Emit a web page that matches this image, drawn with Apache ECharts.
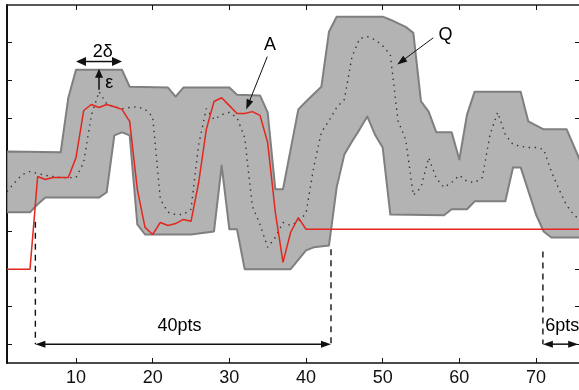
<!DOCTYPE html>
<html><head><meta charset="utf-8">
<script src="https://cdn.jsdelivr.net/npm/echarts@6/dist/echarts.min.js"></script>
<style>html,body{margin:0;padding:0;background:#fff;overflow:hidden}#c{width:579px;height:390px}</style>
</head><body><div id="c"></div>
<script>
// ---- data ----
const xTicks = [10, 20, 30, 40, 50, 60, 70];
const yTicks = [0, 1, 2, 3, 4, 5, 6, 7, 8];

// Query Q (dotted), x = 1..76
const seriesQ = [4.05,4.29,4.50,4.58,4.53,4.48,4.45,4.42,4.42,4.42,
  4.82,6.07,6.70,6.38,6.30,6.25,6.28,6.30,6.23,6.04,
  3.84,3.50,3.44,3.44,3.58,5.30,6.25,5.96,6.09,6.15,
  6.01,5.48,3.66,3.18,2.57,2.83,3.23,3.15,3.26,3.47,
  4.69,5.62,5.93,6.28,6.49,7.63,8.11,8.16,8.08,7.92,
  7.68,5.93,5.43,3.95,4.16,4.95,4.40,4.16,4.29,4.48,
  4.32,4.29,4.42,5.56,6.15,5.56,5.30,5.25,5.22,5.22,
  5.17,4.58,4.11,3.68,3.42,3.26];

// Candidate A (red), x = 1..76
const seriesA = [1.99,1.99,1.99,1.99,4.45,4.37,4.42,4.42,4.42,4.95,
  6.20,6.36,6.28,6.36,6.30,6.23,5.91,4.11,3.10,2.91,
  3.23,3.15,3.20,3.31,3.26,4.29,5.70,6.44,6.54,6.33,
  6.12,6.12,6.17,6.07,5.35,3.50,2.17,2.97,3.36,3.05,
  3.05,3.05,3.05,3.05,3.05,3.05,3.05,3.05,3.05,3.05,
  3.05,3.05,3.05,3.05,3.05,3.05,3.05,3.05,3.05,3.05,
  3.05,3.05,3.05,3.05,3.05,3.05,3.05,3.05,3.05,3.05,
  3.05,3.05,3.05,3.05,3.05,3.05];

// Envelope vertices [x, y]
const upperEnv = [[1,5.11],[8,5.09],[9,6.54],[10,7.28],[16,7.28],[17,6.83],[22,6.81],[23,6.57],[24,6.81],
  [30,6.81],[31,6.62],[34,6.60],[35,6.15],[36,4.11],[37,4.11],[39,6.23],[40,6.44],[42,6.83],[43,8.29],
  [44,8.69],[50,8.69],[51,8.61],[53,8.42],[54,8.26],[55,6.44],[56,6.17],[57,5.62],[59,5.62],[60,4.90],
  [61,6.09],[62,6.70],[68,6.70],[69,5.91],[71,5.70],[74,5.70],[76,4.75]];
const lowerEnv = [[1,3.50],[4,3.50],[5,3.71],[6,3.89],[13,3.89],[14,4.03],[15,5.54],[16,5.62],[17,5.54],
  [18,3.18],[19,2.91],[25,2.91],[28,2.99],[29,4.74],[30,3.05],[31,3.05],[32,1.99],[38,1.99],[40,2.49],
  [41,2.57],[43,2.62],[44,4.16],[45,5.03],[46,5.38],[47,5.70],[48,6.04],[49,5.56],[50,5.22],[51,3.44],
  [58,3.42],[59,3.58],[61,3.58],[62,3.79],[66,3.79],[67,4.69],[68,4.69],[70,3.44],[71,2.99],[72,2.83],[76,2.83]];

// Annotations (data coordinates)
const annoArrows = [
  {from:[10,7.50], to:[16,7.50], start:true, end:true, head:[10,4.5]},
  {from:[13,6.75], to:[13,7.31], start:false, end:true, head:[9,4]},
  {from:[34.95,7.63], to:[32.2,6.23], start:false, end:true, head:[10,3.5], w:1},
  {from:[56.6,8.13], to:[51.9,7.42], start:false, end:true, head:[10,3.5], w:1},
  {from:[4.7,0], to:[43.26,0], start:true, end:true, head:[10,3.5], w:1.5},
  {from:[70.9,0], to:[75.5,0], start:true, end:true, head:[10,3.5], w:1.5}
];
const annoDashed = [
  {from:[4.7,3.25], to:[4.7,0]},
  {from:[43.26,2.52], to:[43.26,0]},
  {from:[70.9,2.46], to:[70.9,0]}
];
const annoTexts = [
  {text:'2δ', at:[13.5,7.76], align:'center'},
  {text:'ε', at:[14.35,6.94], align:'center'},
  {text:'A', at:[35.3,7.95], align:'center'},
  {text:'Q', at:[58.2,8.21], align:'center'},
  {text:'40pts', at:[23.5,0.48], align:'center'},
  {text:'6pts', at:[71.2,0.48], align:'left'}
];

const FONT = '"Liberation Sans", Arial, sans-serif';
const chart = echarts.init(document.getElementById('c'), null, {renderer:'canvas'});

const tickStyle = {show:true, inside:true, length:5, lineStyle:{color:'#111', width:1}};
chart.setOption({
  animation:false,
  backgroundColor:'#fff',
  grid:{left:7, right:-3, top:5, bottom:27, containLabel:false, outerBoundsMode:'none'},
  xAxis:[
    {type:'value', position:'bottom', min:1, max:76,
     axisLine:{show:true, onZero:false, lineStyle:{color:'#111', width:1.5}},
     axisTick:Object.assign({customValues:xTicks}, tickStyle),
     axisLabel:{show:true, customValues:xTicks, margin:6, color:'#111', fontSize:18, fontFamily:FONT},
     splitLine:{show:false}},
    {type:'value', position:'top', min:1, max:76,
     axisLine:{show:true, onZero:false, lineStyle:{color:'#222', width:1.5}},
     axisTick:Object.assign({customValues:xTicks}, tickStyle),
     axisLabel:{show:false}, splitLine:{show:false}}
  ],
  yAxis:[
    {type:'value', position:'left', min:-0.5, max:9,
     axisLine:{show:true, onZero:false, lineStyle:{color:'#111', width:2}},
     axisTick:Object.assign({customValues:yTicks}, tickStyle),
     axisLabel:{show:false}, splitLine:{show:false}},
    {type:'value', position:'right', min:-0.5, max:9,
     axisLine:{show:true, onZero:false, lineStyle:{color:'#111', width:1.5}},
     axisTick:{show:true, inside:true, length:7, customValues:yTicks, lineStyle:{color:'#111', width:1}},
     axisLabel:{show:false}, splitLine:{show:false}}
  ],
  series:[
    {type:'custom', name:'envelope', clip:true, silent:true, z:1,
     data:[[1,0]],
     renderItem:function(params, api){
       const pts = upperEnv.map(p => api.coord(p))
         .concat(lowerEnv.slice().reverse().map(p => api.coord(p)));
       return {type:'polygon', shape:{points:pts},
         style:{fill:'#b3b3b3', stroke:'#7f7f7f', lineWidth:2, lineJoin:'round'}};
     }},
    {type:'line', name:'Q', z:3, showSymbol:false, silent:true,
     data:seriesQ.map((v,i)=>[i+1,v]),
     lineStyle:{color:'#333', width:1.4, type:[1.4,4.6]}},
    {type:'line', name:'A', z:4, showSymbol:false, silent:true,
     data:seriesA.map((v,i)=>[i+1,v]),
     lineStyle:{color:'#e3261e', width:1.5}}
  ]
});

// ---- annotations via graphic, positioned from data coords ----
const px = c => chart.convertToPixel({gridIndex:0}, c);
const g = [];
function head(tip, base, size, color){
  const dx = tip[0]-base[0], dy = tip[1]-base[1];
  const len = Math.hypot(dx,dy) || 1;
  const ux = dx/len, uy = dy/len;
  const bx = tip[0]-ux*size[0], by = tip[1]-uy*size[0];
  return {type:'polygon', z:100, shape:{points:[tip,[bx-uy*size[1], by+ux*size[1]],[bx+uy*size[1], by-ux*size[1]]]},
    style:{fill:color}};
}
annoArrows.forEach(a=>{
  const p1 = px(a.from), p2 = px(a.to);
  const col = '#111';
  const dx=p2[0]-p1[0], dy=p2[1]-p1[1], L=Math.hypot(dx,dy);
  const ux=dx/L, uy=dy/L;
  const s = a.start ? [p1[0]+ux*a.head[0]*0.8, p1[1]+uy*a.head[0]*0.8] : p1;
  const e = a.end ? [p2[0]-ux*a.head[0]*0.8, p2[1]-uy*a.head[0]*0.8] : p2;
  g.push({type:'line', z:100, shape:{x1:s[0],y1:s[1],x2:e[0],y2:e[1]}, style:{stroke:col, lineWidth:a.w||1.5}});
  if (a.start) g.push(head(p1, p2, a.head, col));
  if (a.end) g.push(head(p2, p1, a.head, col));
});
annoDashed.forEach(d=>{
  const p1 = px(d.from), p2 = px(d.to);
  g.push({type:'line', z:99, shape:{x1:p1[0],y1:p1[1],x2:p2[0],y2:p2[1]},
    style:{stroke:'#111', lineWidth:1.4, lineDash:[6,5]}});
});
annoTexts.forEach(t=>{
  const p = px(t.at);
  g.push({type:'text', z:101, x:p[0], y:p[1],
    style:{text:t.text, fill:'#000', font:'18px ' + FONT, align:t.align, verticalAlign:'middle'}});
});
chart.setOption({graphic:g});
</script></body></html>
